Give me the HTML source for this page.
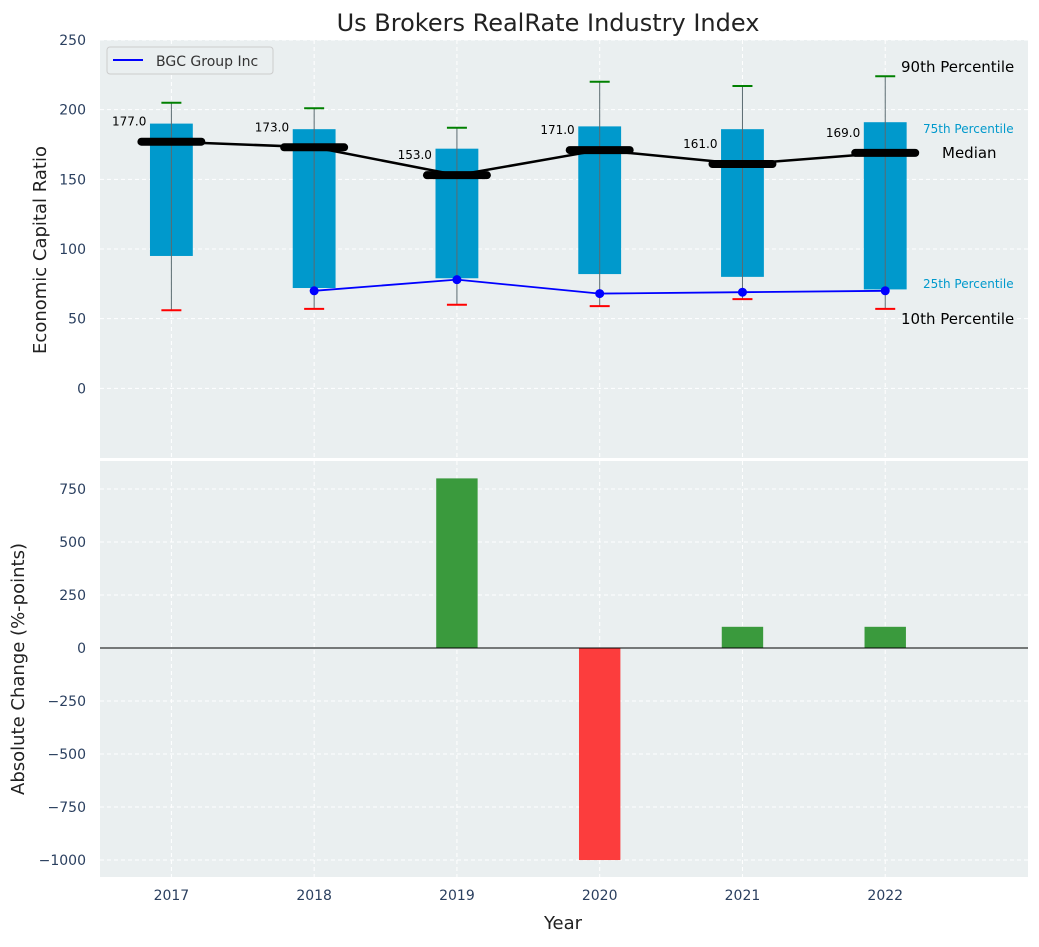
<!DOCTYPE html>
<html><head><meta charset="utf-8"><style>
body{margin:0;background:#fff;font-family:"Liberation Sans","DejaVu Sans",sans-serif;}
svg text{font-family:"DejaVu Sans","Liberation Sans",sans-serif;}
</style></head><body>
<svg id="c" width="1039" height="942" xmlns="http://www.w3.org/2000/svg"></svg>
<script>
const years=[2017,2018,2019,2020,2021,2022];
const p10=[56,57,60,59,64,57];
const q25=[95,72,79,82,80,71];
const medians=[177,173,153,171,161,169];
const q75=[190,186,172,188,186,191];
const p90=[205,201,187,220,217,224];
const bgcYears=[2018,2019,2020,2021,2022];
const bgcValues=[70,78,68,69,70];
const changes=[0,0,800,-1000,100,100];
const topTicks=[0,50,100,150,200,250];
const botTicks=[-1000,-750,-500,-250,0,250,500,750];

const NS="http://www.w3.org/2000/svg";
const svg=document.getElementById('c');
function el(t,a,p){const e=document.createElementNS(NS,t);for(const k in a)e.setAttribute(k,a[k]);(p||svg).appendChild(e);return e;}
const L=100,R=1028,T1=40,B1=458,T2=461,B2=877;
const x=v=>L+(v-2016.5)/6.5*(R-L);
const y1=v=>T1+(250-v)/300*(B1-T1);
const y2=v=>T2+(882-v)/1962*(B2-T2);
const step=x(2018)-x(2017);

// backgrounds
let r=el('rect',{x:L,y:T1,width:R-L,height:B1-T1,fill:'#eaeff0'});

r=el('rect',{x:L,y:T2,width:R-L,height:B2-T2,fill:'#eaeff0'});


// grids
years.forEach(yr=>{
 el('line',{x1:x(yr),x2:x(yr),y1:T1,y2:B1,stroke:'#fff','stroke-dasharray':'4,3'});
 el('line',{x1:x(yr),x2:x(yr),y1:T2,y2:B2,stroke:'#fff','stroke-dasharray':'4,3'});
 const t=el('text',{x:x(yr),y:900,'font-size':14,fill:'#2a3f5f','text-anchor':'middle'});t.textContent=yr;
 
});
topTicks.forEach(v=>{
 el('line',{x1:L,x2:R,y1:y1(v),y2:y1(v),stroke:'#fff','stroke-dasharray':'4,3'});
 const t=el('text',{x:86,y:y1(v)+5,'font-size':14,fill:'#2a3f5f','text-anchor':'end'});t.textContent=v;
 
});
botTicks.forEach(v=>{
 el('line',{x1:L,x2:R,y1:y2(v),y2:y2(v),stroke:'#fff','stroke-dasharray':'4,3'});
 const t=el('text',{x:86,y:y2(v)+5,'font-size':14,fill:'#2a3f5f','text-anchor':'end'});t.textContent=(v<0?'\u2212'+(-v):v);
 
});

// boxes
const bw=step*0.3, mw=step*0.42;
years.forEach((yr,i)=>{
 const cx=x(yr);
 const b=el('rect',{x:cx-bw/2,y:y1(q75[i]),width:bw,height:y1(q25[i])-y1(q75[i]),fill:'#0099cc'});
 
 el('line',{x1:cx,x2:cx,y1:y1(p10[i]),y2:y1(p90[i]),stroke:'#5a6a70','stroke-width':1});
 el('line',{x1:cx-10,x2:cx+10,y1:y1(p90[i]),y2:y1(p90[i]),stroke:'green','stroke-width':2});
 el('line',{x1:cx-10,x2:cx+10,y1:y1(p10[i]),y2:y1(p10[i]),stroke:'red','stroke-width':2});
});
// median line
let pts=years.map((yr,i)=>x(yr)+','+y1(medians[i])).join(' ');
let ml=el('polyline',{points:pts,fill:'none',stroke:'#000','stroke-width':2.5});

years.forEach((yr,i)=>{
 const cx=x(yr);
 const m=el('line',{x1:cx-mw/2,x2:cx+mw/2,y1:y1(medians[i]),y2:y1(medians[i]),stroke:'#000','stroke-width':8,'stroke-linecap':'round'});
 
 const t=el('text',{x:cx-25,y:y1(medians[i])-16,'font-size':12,fill:'#000','text-anchor':'end'});t.textContent=medians[i].toFixed(1);
 
});
// BGC line
pts=bgcYears.map((yr,i)=>x(yr)+','+y1(bgcValues[i])).join(' ');
let bl=el('polyline',{points:pts,fill:'none',stroke:'#0000ff','stroke-width':1.8});

bgcYears.forEach((yr,i)=>{const c=el('circle',{cx:x(yr),cy:y1(bgcValues[i]),r:4.5,fill:'#0000ff'});
 });

// percentile annotations
const ann=[[901,72,'90th Percentile',15,'#000'],[923,133,'75th Percentile',12,'#0099cc'],[942,158,'Median',15,'#000'],[923,288,'25th Percentile',12,'#0099cc'],[901,324,'10th Percentile',15,'#000']];
ann.forEach(a=>{const t=el('text',{x:a[0],y:a[1],'font-size':a[3],fill:a[4]});t.textContent=a[2];
 });

// legend
const lg=el('g',{});
el('rect',{x:107,y:47,width:166,height:27,rx:3,fill:'#eaeff0',stroke:'#ccc'},lg);
el('line',{x1:113,x2:143,y1:60,y2:60,stroke:'#0000ff','stroke-width':2},lg);
const lt=el('text',{x:156,y:66,'font-size':14,fill:'#333'},lg);lt.textContent='BGC Group Inc';

// bars
const barW=step*0.29;
years.forEach((yr,i)=>{
 const v=changes[i];if(v===0)return;
 const b=el('rect',{x:x(yr)-barW/2,y:Math.min(y2(v),y2(0)),width:barW,height:Math.abs(y2(v)-y2(0)),fill:v>0?'#3a9a3d':'#fc3d3d'});
 
});
el('line',{x1:L,x2:R,y1:y2(0),y2:y2(0),stroke:'#000','stroke-width':1});

// titles
let t=el('text',{x:548,y:31,'font-size':24,fill:'#222','text-anchor':'middle'});t.textContent='Us Brokers RealRate Industry Index';

t=el('text',{x:563,y:929,'font-size':18,fill:'#222','text-anchor':'middle'});t.textContent='Year';

t=el('text',{x:0,y:0,'font-size':18,fill:'#222','text-anchor':'middle',transform:'translate(46,250) rotate(-90)'});t.textContent='Economic Capital Ratio';

t=el('text',{x:0,y:0,'font-size':18,fill:'#222','text-anchor':'middle',transform:'translate(24,669) rotate(-90)'});t.textContent='Absolute Change (%-points)';

</script>
</body></html>
